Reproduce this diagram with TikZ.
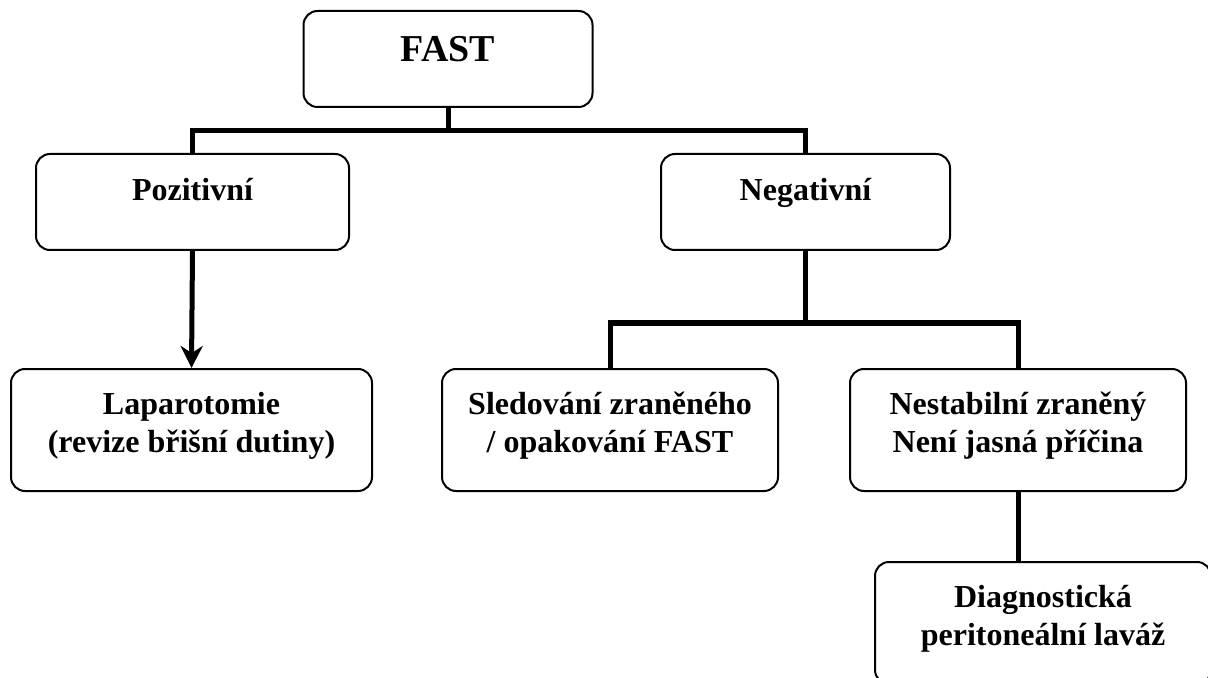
\documentclass[tikz,border=0pt]{standalone}
\usepackage{fontspec}
\setmainfont{Liberation Serif}
\usepackage{tikz}
\usetikzlibrary{calc,positioning}
\usetikzlibrary{arrows.meta}
\tikzset{>={Stealth[length=11pt,width=11pt,inset=3.5pt]}}

\begin{document}
\begin{tikzpicture}[x=0.5pt,y=-0.5pt]
      %%%%%%%%%%%%%%%%%%%%%%%%%%%%%%%%%%%%%%%%%%%%%%%%%% 
      %% FAST decision tree
      %%%%%%%%%%%%%%%%%%%%%%%%%%%%%%%%%%%%%%%%%%%%%%%%%% 
      \tikzstyle{bnode} = [line width=1pt, draw, rectangle, rounded corners = 7pt, inner sep = 0pt, align=center, font=\fontsize{16}{19}\selectfont\bfseries]
      \tikzstyle{snode} = [bnode, minimum width=144.5pt, minimum height=48pt]
      \tikzstyle{dnode} = [bnode, minimum width=168pt, minimum height=61pt]
      \tikzstyle{cline} = [line width=2.5pt]
      \useasboundingbox (0,0) rectangle (1208,678);
      \clip (0,0) rectangle (1208,678);
      \node[snode, font=\fontsize{19}{23}\selectfont\bfseries] (fast) at (448,59) {\begin{tabular}{@{}c@{}}FAST\\[7pt]\end{tabular}};
      \node[snode, minimum width=156.5pt] (poz) at (192.5,202) {\begin{tabular}{@{}c@{}}Pozitivní\\[9pt]\end{tabular}};
      \node[snode] (neg) at (805.5,202) {\begin{tabular}{@{}c@{}}Negativní\\[9pt]\end{tabular}};
      \node[dnode, minimum width=180.5pt] (lap) at (191.5,430) {\begin{tabular}{@{}c@{}}Laparotomie\\(revize břišní dutiny)\\[4pt]\end{tabular}};
      \node[dnode] (sled) at (610,430) {\begin{tabular}{@{}c@{}}Sledování zraněného\\/ opakování FAST\\[4pt]\end{tabular}};
      \node[dnode] (nest) at (1018,430) {\begin{tabular}{@{}c@{}}Nestabilní zraněný\\Není jasná příčina\\[4pt]\end{tabular}};
      \node[dnode] (dpl) at (1043,623) {\begin{tabular}{@{}c@{}}Diagnostická\\peritoneální laváž\\[4pt]\end{tabular}};
      \draw[cline] (fast.south) -- ++(0,23) -| (poz.north);
      \draw[cline] (fast.south) -- ++(0,23) -| (neg.north);
      \draw[cline,->] (poz.south) -- (lap.north);
      \draw[cline] (neg.south) -- ++(0,72) -| (sled.north);
      \draw[cline] (neg.south) -- ++(0,72) -| (nest.north);
      \draw[cline] (nest.south) -- (nest.south |- dpl.north);
\end{tikzpicture}
\end{document}
